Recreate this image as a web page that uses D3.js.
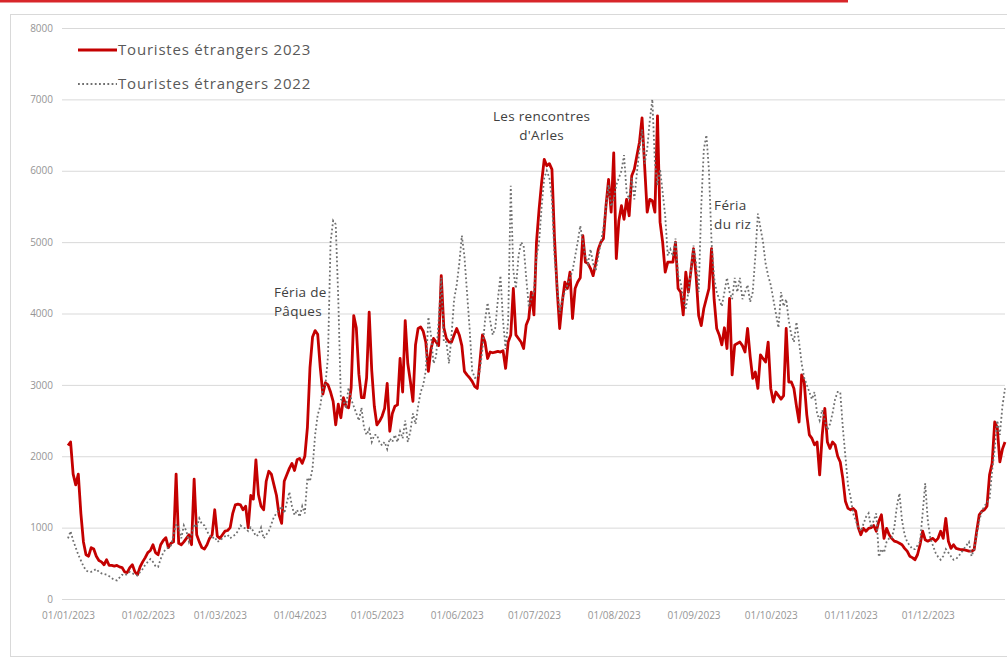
<!DOCTYPE html>
<html lang="fr">
<head>
<meta charset="utf-8">
<title>Touristes étrangers 2023 / 2022</title>
<style>
  body { margin: 0; background: #fff; }
  svg { display: block; font-family: 'Open Sans', sans-serif; }
  .axis text { fill: #959595; font-size: 10px; font-family: 'Open Sans', sans-serif; }
  .axis .domain { display: none; }
  .grid line { stroke: #d9d9d9; stroke-width: 1px; }
  .note { fill: #404040; font-size: 13.5px; letter-spacing: 0.3px; }
  .legend text { fill: #595959; font-size: 15px; letter-spacing: 0.8px; }
</style>
</head>
<body>
<div id="chart"></div>
<script src="https://cdn.jsdelivr.net/npm/d3@7"></script>
<script>
// y axis ticks and month labels
var yTicks = [0, 1000, 2000, 3000, 4000, 5000, 6000, 7000, 8000];
var xTickLabels = ["01/01/2023", "01/02/2023", "01/03/2023", "01/04/2023", "01/05/2023", "01/06/2023",
                   "01/07/2023", "01/08/2023", "01/09/2023", "01/10/2023", "01/11/2023", "01/12/2023"];
var seriesNames = ["Touristes étrangers 2023", "Touristes étrangers 2022"];

// daily values, one line per month
var tourists2023 = [
  2150, 2200, 1750, 1600, 1750, 1200, 800, 620, 600, 720, 700, 600, 540, 520, 480, 550, 470, 470, 460, 470, 450, 440, 380, 370, 440, 480, 380, 340, 450, 520, 580,
  650, 680, 760, 650, 620, 760, 820, 860, 720, 780, 800, 1750, 780, 760, 800, 850, 900, 760, 1680, 900, 800, 720, 700, 760, 850, 900, 1250, 880,
  850, 900, 950, 960, 1000, 1200, 1320, 1330, 1320, 1250, 1300, 1000, 1450, 1400, 1950, 1460, 1300, 1250, 1650, 1790, 1750, 1600, 1450, 1175, 1060, 1650, 1740, 1830, 1900, 1800, 1950,
  1970, 1900, 2000, 2400, 3240, 3670, 3760, 3710, 3240, 2870, 3030, 3000, 2900, 2770, 2440, 2730, 2540, 2820, 2700, 2680, 2960, 3970, 3800, 3150, 2820, 2820, 3100, 4020, 3200, 2700,
  2440, 2490, 2560, 2670, 3020, 2350, 2600, 2700, 2720, 3370, 2900, 3900, 3300, 3050, 2770, 3560, 3790, 3810, 3750, 3600, 3190, 3500, 3650, 3600, 3550, 4530, 3800, 3650, 3600, 3600, 3700,
  3790, 3700, 3550, 3190, 3140, 3100, 3050, 2980, 2950, 3320, 3700, 3600, 3370, 3460, 3450, 3460, 3470, 3460, 3480, 3230, 3600, 3700, 4350, 3700, 3650, 3600, 3510, 3840, 3930, 4300,
  3980, 5000, 5460, 5840, 6160, 6070, 6100, 6020, 5050, 4350, 3790, 4160, 4440, 4350, 4580, 3930, 4350, 4440, 4500, 5090, 4720, 4700, 4630, 4530, 4700, 4900, 5000, 5050, 5510, 5880, 5420,
  6250, 4770, 5300, 5510, 5320, 5600, 5370, 5930, 6020, 6210, 6400, 6740, 6070, 5420, 5600, 5580, 5420, 6770, 5280, 5000, 4580, 4720, 4720, 4720, 5000, 4350, 4300, 3980, 4580, 4300, 4600,
  4910, 4530, 3970, 3830, 4070, 4210, 4350, 4910, 4200, 3790, 3700, 3560, 3800, 3510, 4210, 3140, 3560, 3580, 3600, 3550, 3460, 3790, 3400, 3090, 3180, 2950, 3420, 3370, 3320, 3600,
  2950, 2760, 2900, 2850, 2800, 2850, 3790, 3040, 3040, 2950, 2700, 2480, 3140, 3040, 2580, 2300, 2250, 2160, 2200, 1740, 2300, 2670, 2200, 2110, 2200, 2160, 2000, 1920, 1690, 1370, 1270,
  1250, 1270, 1230, 1000, 900, 990, 950, 990, 1000, 1030, 950, 1090, 1180, 850, 990, 900, 850, 810, 800, 780, 760, 710, 670, 600, 580, 550, 620, 760, 950, 830,
  810, 830, 850, 810, 850, 950, 850, 1130, 810, 710, 760, 710, 700, 690, 690, 680, 670, 670, 690, 950, 1180, 1230, 1250, 1300, 1740, 1900, 2480, 2400, 1920, 2100, 2200
];

var tourists2022 = [
  850, 950, 820, 720, 620, 540, 460, 400, 380, 380, 400, 420, 380, 360, 350, 340, 320, 290, 270, 260, 300, 340, 330, 350, 380, 360, 340, 330, 380, 420, 480,
  520, 560, 520, 460, 450, 560, 650, 700, 720, 750, 900, 1050, 1000, 850, 1030, 950, 800, 900, 1050, 1000, 1130, 1050, 1030, 950, 890, 850, 870, 800,
  820, 850, 880, 900, 850, 880, 900, 950, 1030, 1000, 990, 950, 1000, 950, 880, 900, 1000, 850, 900, 950, 1050, 1150, 1200, 1250, 1300, 1200, 1350, 1500, 1300, 1175, 1250,
  1150, 1300, 1200, 1700, 1650, 1830, 2300, 2580, 2700, 2960, 3000, 3400, 5000, 5300, 5250, 4200, 2800, 2770, 2700, 2960, 2800, 2700, 2600, 2500, 2680, 2400, 2300, 2380, 2200, 2300,
  2300, 2200, 2150, 2200, 2100, 2250, 2200, 2300, 2200, 2350, 2250, 2500, 2200, 2350, 2600, 2450, 2700, 2900, 3000, 3200, 3950, 3700, 3300, 3400, 3900, 4500, 3600, 3600, 3300, 3700, 4200,
  4400, 4700, 5090, 4800, 4300, 3800, 3200, 3100, 3100, 3200, 3500, 3900, 4150, 3900, 3700, 3800, 4200, 4530, 3900, 3500, 3900, 5790, 4600, 4350, 4800, 5000, 4950, 4500, 4100, 4200,
  4300, 4800, 5000, 5500, 5900, 6000, 5900, 5600, 4800, 4400, 4000, 4200, 4300, 4400, 4500, 4600, 4800, 5000, 5230, 5000, 4800, 4700, 4900, 4700, 4600, 4800, 5000, 5200, 5500, 5800, 5500,
  5600, 5800, 5900, 6000, 6220, 5700, 5600, 5900, 5600, 5970, 6300, 6580, 6100, 6300, 6700, 7000, 6110, 5800, 6020, 5700, 5370, 4810, 4900, 4800, 5050, 4530, 4440, 4200, 4070, 4300, 4600,
  4950, 4700, 4300, 5500, 6300, 6500, 6000, 5000, 4500, 4300, 4200, 4100, 4300, 4500, 4300, 4200, 4500, 4300, 4500, 4200, 4300, 4400, 4160, 4300, 4800, 5400, 5200, 5000, 4700, 4530,
  4400, 4200, 4000, 3800, 4300, 4100, 4200, 3900, 3700, 3600, 3880, 3600, 3300, 3100, 3000, 2900, 2800, 2900, 2600, 2500, 2650, 2500, 2370, 2450, 2600, 2800, 2900, 2900, 2400, 2000, 1600,
  1430, 1200, 1100, 1000, 950, 1050, 1150, 1200, 1000, 1100, 1200, 590, 700, 650, 800, 850, 850, 1000, 1300, 1480, 1100, 900, 800, 750, 700, 700, 750, 800, 1200, 1620,
  1100, 850, 750, 650, 590, 550, 600, 700, 650, 600, 550, 560, 600, 650, 700, 750, 800, 600, 700, 900, 1100, 1230, 1300, 1350, 1400, 1800, 2100, 2500, 2300, 2700, 2950
];

// annotations, anchored on a date and a value
var notes = [
  { lines: ["Féria de", "Pâques"], date: "22/03/2023", value: 4300, anchor: "start" },
  { lines: ["Les rencontres", "d'Arles"], date: "04/07/2023", value: 6760, anchor: "middle" },
  { lines: ["Féria", "du riz"], date: "09/09/2023", value: 5520, anchor: "start" }
];

var width = 1007, height = 663;
var parseDate = d3.timeParse("%d/%m/%Y");
var start = parseDate(xTickLabels[0]);
var red = "#c40000", grey = "#6f6f6f";

var svg = d3.select("#chart")
  .append("svg")
  .attr("width", width)
  .attr("height", height);

// red rule at the very top (title underline, cropped)
svg.append("line")
  .attr("x1", 0).attr("x2", 848)
  .attr("y1", 1).attr("y2", 1)
  .attr("stroke", "#d8262a")
  .attr("stroke-width", 3);

// chart frame
svg.append("rect")
  .attr("x", 10.5).attr("y", 14.5)
  .attr("width", 1010).attr("height", 642)
  .attr("fill", "none")
  .attr("stroke", "#d9d9d9");

var x = d3.scaleTime()
  .domain([start, d3.timeDay.offset(start, tourists2023.length - 1)])
  .range([68, 1005]);

var y = d3.scaleLinear()
  .domain([0, 8000])
  .range([599, 28]);

// gridlines + y labels
svg.append("g")
  .attr("class", "axis grid")
  .attr("transform", "translate(62,0)")
  .call(d3.axisLeft(y).tickValues(yTicks).tickSize(-943).tickPadding(9).tickFormat(d3.format("d")));

// month labels
var monthStarts = xTickLabels.map(parseDate);
svg.append("g")
  .attr("class", "axis")
  .attr("transform", "translate(0,599)")
  .call(d3.axisBottom(x).tickValues(monthStarts).tickSize(0).tickPadding(13)
    .tickFormat(function(d, i) { return xTickLabels[i]; }));

var line = d3.line()
  .x(function(d, i) { return x(d3.timeDay.offset(start, i)); })
  .y(function(d) { return y(d); });

svg.append("path")
  .datum(tourists2023)
  .attr("d", line)
  .attr("fill", "none")
  .attr("stroke", red)
  .attr("stroke-width", 2.8)
  .attr("stroke-linejoin", "round");

svg.append("path")
  .datum(tourists2022)
  .attr("d", line)
  .attr("fill", "none")
  .attr("stroke", grey)
  .attr("stroke-width", 1.8)
  .attr("stroke-dasharray", "1.8,2.4");

// legend
var legend = svg.append("g").attr("class", "legend");
var legendRows = [
  { name: seriesNames[0], color: red, w: 2.8, dash: null },
  { name: seriesNames[1], color: grey, w: 1.8, dash: "1.8,2.4" }
];
legendRows.forEach(function(r, i) {
  var ly = 50 + i * 34;
  legend.append("line")
    .attr("x1", 78).attr("x2", 117)
    .attr("y1", ly).attr("y2", ly)
    .attr("stroke", r.color)
    .attr("stroke-width", r.w)
    .attr("stroke-dasharray", r.dash);
  legend.append("text")
    .attr("x", 118).attr("y", ly)
    .attr("dy", "0.35em")
    .text(r.name);
});

// annotations
notes.forEach(function(n) {
  var t = svg.append("text")
    .attr("class", "note")
    .attr("text-anchor", n.anchor)
    .attr("x", x(parseDate(n.date)))
    .attr("y", y(n.value))
    .attr("dy", "0.35em");
  n.lines.forEach(function(l, i) {
    t.append("tspan")
      .attr("x", x(parseDate(n.date)))
      .attr("dy", i === 0 ? "0.35em" : "1.4em")
      .text(l);
  });
});
</script>
</body>
</html>
